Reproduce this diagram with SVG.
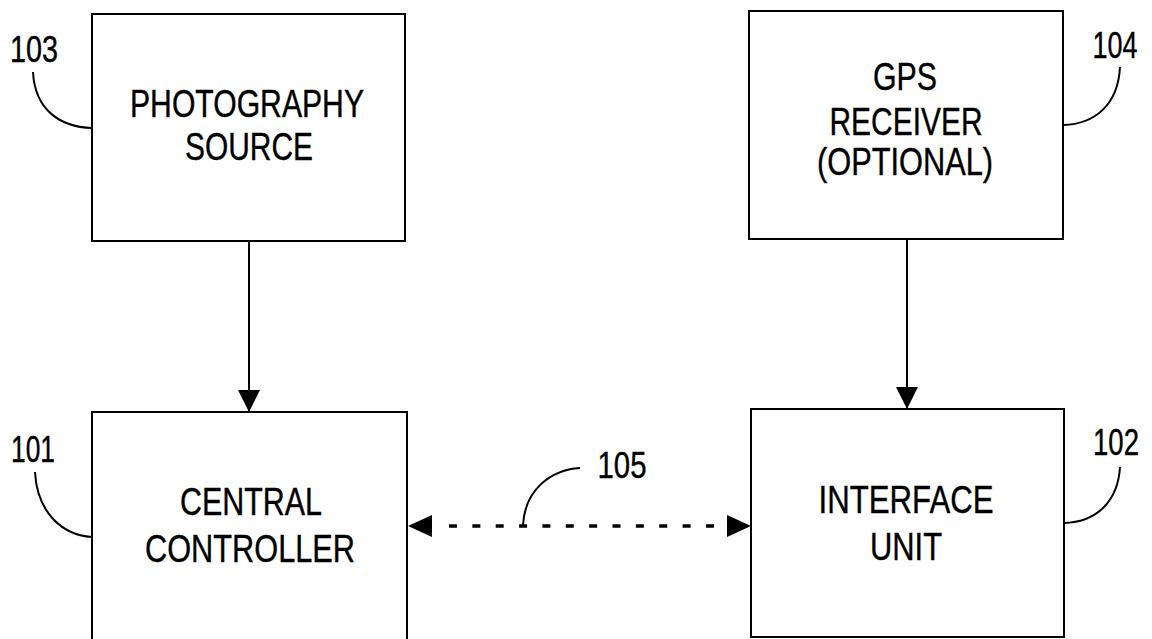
<svg xmlns="http://www.w3.org/2000/svg" width="1152" height="639" viewBox="0 0 1152 639">
<style>
.box{fill:#fff;stroke:#000;stroke-width:2}
.t{font-family:"Liberation Sans",Arial,sans-serif;font-size:38px;fill:#000;stroke:#000;stroke-width:0.4;text-anchor:middle}
.n{font-size:36px}
.lead{fill:none;stroke:#000;stroke-width:2}
.ln{stroke:#000;stroke-width:2;fill:none}
.dot{stroke:#000;stroke-width:3.5;fill:none;stroke-dasharray:8 15.36}
</style>
<defs>
<marker id="ah" viewBox="0 0 22 22" refX="22" refY="11" markerWidth="22" markerHeight="22" markerUnits="userSpaceOnUse" orient="auto-start-reverse">
<path d="M0,0 L22,11 L0,22 Z" fill="#000"/>
</marker>
</defs>
<rect width="1152" height="639" fill="#fff"/>
<g id="node-103">
<rect class="box" x="92" y="14" width="313" height="227"/>
<text class="t" x="247" y="117" textLength="234" lengthAdjust="spacingAndGlyphs">PHOTOGRAPHY</text>
<text class="t" x="249" y="160" textLength="128" lengthAdjust="spacingAndGlyphs">SOURCE</text>
<text class="t n" x="34" y="62" textLength="48" lengthAdjust="spacingAndGlyphs">103</text>
<path class="lead" d="M33,72 C35,110 60,127 92,128"/>
</g>
<g id="node-104">
<rect class="box" x="749" y="11" width="314" height="228"/>
<text class="t" x="905" y="90" textLength="64" lengthAdjust="spacingAndGlyphs">GPS</text>
<text class="t" x="906" y="135" textLength="153" lengthAdjust="spacingAndGlyphs">RECEIVER</text>
<text class="t" x="905" y="175" textLength="176" lengthAdjust="spacingAndGlyphs">(OPTIONAL)</text>
<text class="t n" x="1115" y="58" textLength="45" lengthAdjust="spacingAndGlyphs">104</text>
<path class="lead" d="M1120,67 C1118,105 1095,124 1063,125"/>
</g>
<g id="node-101">
<rect class="box" x="92" y="412" width="315" height="240"/>
<text class="t" x="251" y="515" textLength="142" lengthAdjust="spacingAndGlyphs">CENTRAL</text>
<text class="t" x="250" y="562" textLength="210" lengthAdjust="spacingAndGlyphs">CONTROLLER</text>
<text class="t n" x="33" y="462" textLength="44" lengthAdjust="spacingAndGlyphs">101</text>
<path class="lead" d="M35,472 C37,510 60,535 92,537"/>
</g>
<g id="node-102">
<rect class="box" x="751" y="409" width="313" height="228"/>
<text class="t" x="906" y="513" textLength="175" lengthAdjust="spacingAndGlyphs">INTERFACE</text>
<text class="t" x="906" y="560" textLength="72" lengthAdjust="spacingAndGlyphs">UNIT</text>
<text class="t n" x="1116" y="455" textLength="46" lengthAdjust="spacingAndGlyphs">102</text>
<path class="lead" d="M1120,467 C1118,500 1098,522 1064,523"/>
</g>
<g id="connectors">
<line class="ln" x1="249" y1="241" x2="249" y2="412" marker-end="url(#ah)"/>
<line class="ln" x1="907" y1="239" x2="907" y2="409" marker-end="url(#ah)"/>
<line class="dot" x1="449" y1="526" x2="714" y2="526"/>
<path d="M408,526 L432,515 L432,537 Z" fill="#000"/>
<path d="M751,526 L727,515 L727,537 Z" fill="#000"/>
<path class="lead" d="M523,525 C525,490 550,470 580,468"/>
<text class="t n" x="622" y="478" textLength="49" lengthAdjust="spacingAndGlyphs">105</text>
</g>
</svg>
